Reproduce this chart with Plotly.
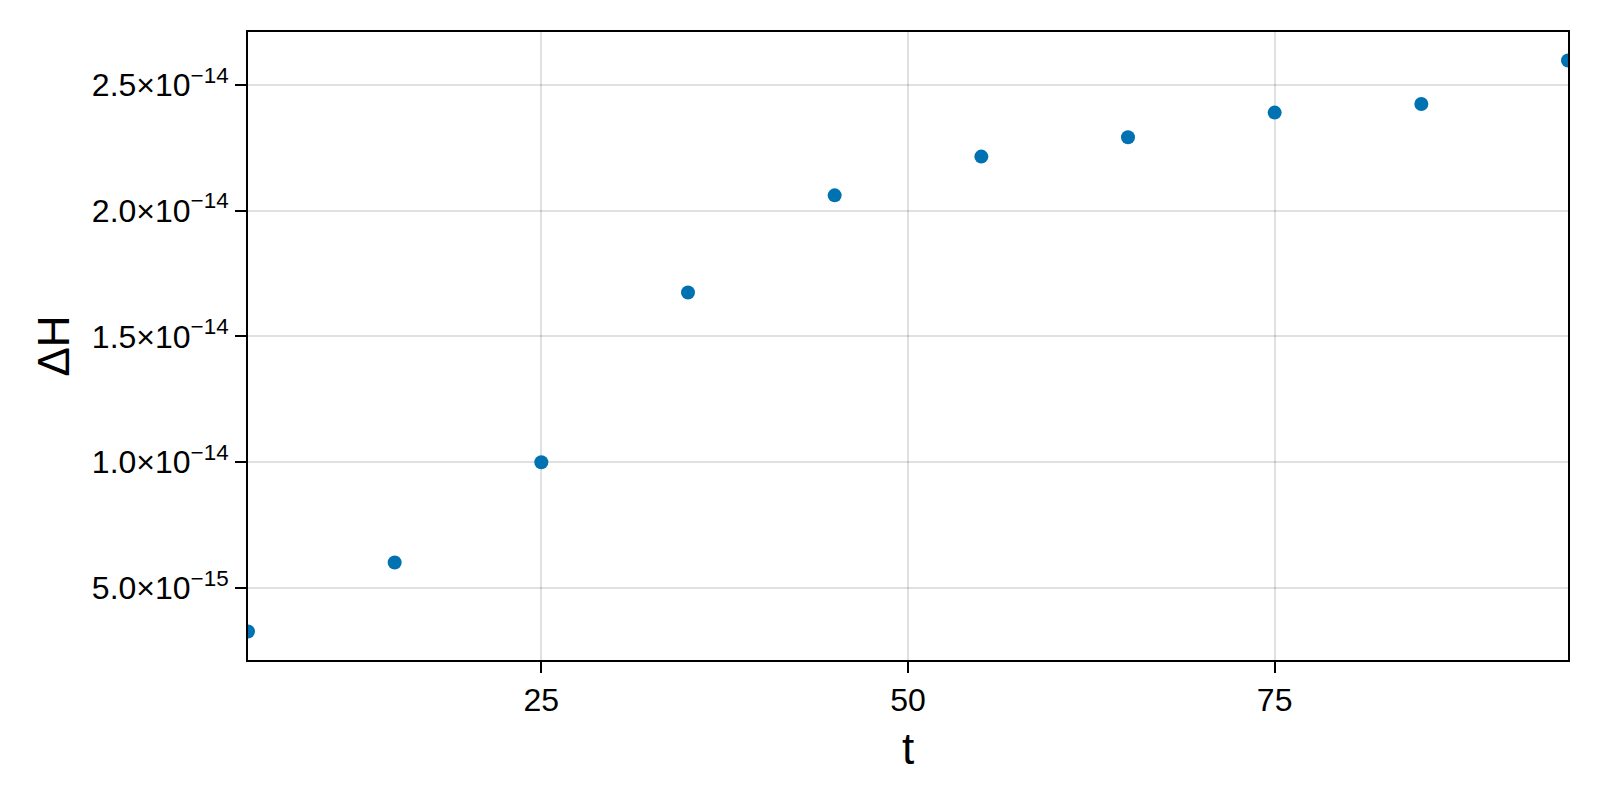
import plotly.graph_objects as go

t_values = [5, 15, 25, 35, 45, 55, 65, 75, 85, 95]
delta_h = [3.27e-15, 6.01e-15, 1.0e-14, 1.675e-14, 2.061e-14,
           2.215e-14, 2.292e-14, 2.39e-14, 2.424e-14, 2.597e-14]

x_ticks = [25, 50, 75]
y_ticks = [5e-15, 1.0e-14, 1.5e-14, 2.0e-14, 2.5e-14]
y_tick_labels = ["5.0×10<sup>−15</sup>", "1.0×10<sup>−14</sup>", "1.5×10<sup>−14</sup>",
                 "2.0×10<sup>−14</sup>", "2.5×10<sup>−14</sup>"]


def main():
    font = "Liberation Sans, Arial, sans-serif"
    fig = go.Figure(go.Scatter(x=t_values, y=delta_h, mode="markers",
                               marker=dict(color="#0072B2", size=14),
                               cliponaxis=True, showlegend=False))

    axis_style = dict(showline=True, linecolor="black", linewidth=2, mirror=True,
                      showgrid=True, gridcolor="rgba(0,0,0,0.12)", gridwidth=2,
                      zeroline=False, ticks="outside", ticklen=11, tickwidth=2,
                      tickcolor="black", tickfont=dict(size=32, color="black"))

    fig.update_xaxes(range=[5, 95], tickvals=x_ticks,
                     title=dict(text="t", font=dict(size=44, color="black"), standoff=16),
                     **axis_style)
    span = (max(delta_h) - min(delta_h)) * 0.05
    fig.update_yaxes(range=[min(delta_h) - span, max(delta_h) + span],
                     tickvals=y_ticks, ticktext=y_tick_labels,
                     title=dict(text="ΔH", font=dict(size=44, color="black"), standoff=8),
                     **axis_style)

    # the page body keeps its 8px margin, so the figure is shifted back by that much
    fig.update_layout(width=1592, height=792, plot_bgcolor="white", paper_bgcolor="white",
                      font=dict(family=font, color="black"),
                      margin=dict(l=240, r=32, t=24, b=140))

    fig.write_html("out.html")


if __name__ == "__main__":
    main()
